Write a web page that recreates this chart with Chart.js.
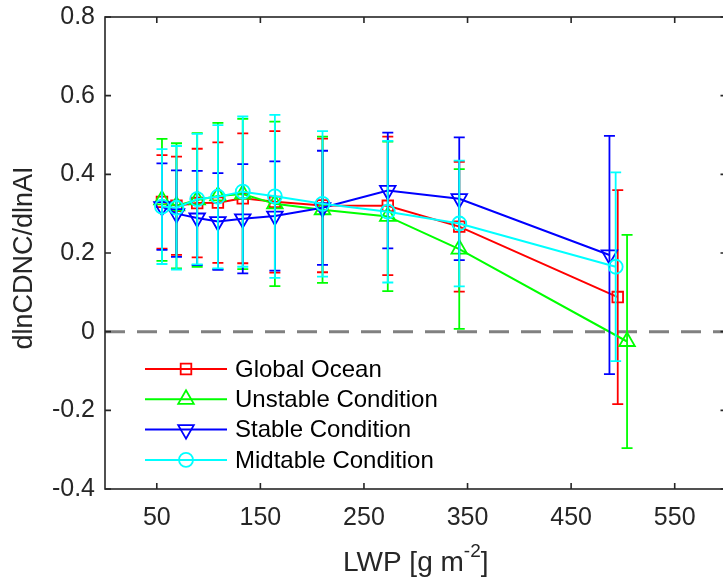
<!DOCTYPE html>
<html>
<head>
<meta charset="utf-8">
<script src="https://cdn.jsdelivr.net/npm/chart.js@4.4.0/dist/chart.umd.min.js"></script>
<style>
html, body { margin: 0; padding: 0; background: #fff; overflow: hidden; }
canvas { display: block; }
</style>
</head>
<body>
<canvas id="myChart" width="723" height="582"></canvas>
<script>
// series names, colours and markers (matlab r / g / b / c)
var seriesNames = ['Global Ocean', 'Unstable Condition', 'Stable Condition', 'Midtable Condition'];
var seriesColors = ['#ff0000', '#00ff00', '#0000ff', '#00ffff'];

// LWP bins [g m-2]
var lwpGlobal   = [55, 69, 89, 109, 133, 164, 210, 273, 342, 495];
var lwpUnstable = [55, 69, 89, 109, 133, 164, 210, 273, 342, 504];
var lwpStable   = [55, 69, 89, 109, 133, 164, 210, 273, 342, 487];
var lwpMid      = [55, 69, 89, 109, 133, 164, 210, 273, 342, 493];

// dlnCDNC/dlnAI
var valGlobal   = [0.330, 0.320, 0.327, 0.328, 0.339, 0.330, 0.321, 0.320, 0.267, 0.088];
var valUnstable = [0.335, 0.320, 0.335, 0.345, 0.350, 0.325, 0.310, 0.293, 0.210, -0.025];
var valStable   = [0.318, 0.300, 0.289, 0.280, 0.287, 0.294, 0.315, 0.359, 0.338, 0.195];
var valMid      = [0.318, 0.315, 0.337, 0.343, 0.356, 0.344, 0.325, 0.305, 0.275, 0.165];

// error bar half lengths
var errGlobal   = [0.119, 0.125, 0.138, 0.153, 0.165, 0.180, 0.170, 0.176, 0.165, 0.272];
var errUnstable = [0.155, 0.159, 0.170, 0.186, 0.191, 0.209, 0.186, 0.190, 0.203, 0.271];
var errStable   = [0.110, 0.110, 0.120, 0.123, 0.139, 0.139, 0.145, 0.147, 0.156, 0.303];
var errMid      = [0.146, 0.157, 0.166, 0.182, 0.191, 0.207, 0.185, 0.180, 0.160, 0.240];

// dashed zero line
var zeroLineX = [0, 600];
var zeroLineY = [0, 0];

var xTicks = [50, 150, 250, 350, 450, 550];
var yTicks = [-0.4, -0.2, 0, 0.2, 0.4, 0.6, 0.8];

var fontFamily = "'Liberation Sans', Arial, Helvetica, sans-serif";
var axisColor = '#262626';
var axesRight = 726.5; // the right side of the box is cut off in the figure

function toPoints(xs, ys) {
    return xs.map(function(x, i) { return {x: x, y: ys[i]}; });
}

function series(i, xs, ys, errs, style, radius, rotation, order) {
    return {
        label: seriesNames[i],
        data: toPoints(xs, ys),
        errors: errs,
        borderColor: seriesColors[i],
        backgroundColor: seriesColors[i],
        borderWidth: 2,
        pointStyle: style,
        pointRadius: radius,
        pointRotation: rotation,
        pointBorderWidth: 1.8,
        pointBackgroundColor: 'rgba(0,0,0,0)',
        pointBorderColor: seriesColors[i],
        order: order
    };
}

// stretch the x scale so the box runs past the canvas edge
var stretchX = {
    id: 'stretchX',
    afterLayout: function(chart) {
        var sx = chart.scales.x;
        sx.right = axesRight;
        sx.width = sx.right - sx.left;
        sx.configure();
        chart.chartArea.right = axesRight;
        chart.chartArea.width = axesRight - chart.chartArea.left;
    }
};

// error bars drawn just before each series' line and markers
var errorBars = {
    id: 'errorBars',
    beforeDatasetDraw: function(chart, args) {
        var ds = chart.data.datasets[args.index];
        if (!ds.errors) return;
        var ctx = chart.ctx, sx = chart.scales.x, sy = chart.scales.y;
        var cap = 5.5;
        ctx.save();
        ctx.strokeStyle = ds.borderColor;
        ctx.lineWidth = 1.8;
        ds.data.forEach(function(p, i) {
            var px = sx.getPixelForValue(p.x);
            var top = sy.getPixelForValue(p.y + ds.errors[i]);
            var bot = sy.getPixelForValue(p.y - ds.errors[i]);
            ctx.beginPath();
            ctx.moveTo(px, top); ctx.lineTo(px, bot);
            ctx.moveTo(px - cap, top); ctx.lineTo(px + cap, top);
            ctx.moveTo(px - cap, bot); ctx.lineTo(px + cap, bot);
            ctx.stroke();
        });
        ctx.restore();
    }
};

// matlab style box with inward ticks, legend and axis titles
var decorations = {
    id: 'decorations',
    afterDraw: function(chart) {
        var ctx = chart.ctx, a = chart.chartArea;
        var sx = chart.scales.x, sy = chart.scales.y;
        var tl = 6;
        ctx.save();
        ctx.strokeStyle = axisColor;
        ctx.lineWidth = 1.6;
        ctx.strokeRect(a.left, a.top, a.right - a.left, a.bottom - a.top);
        ctx.beginPath();
        xTicks.forEach(function(v) {
            var px = sx.getPixelForValue(v);
            ctx.moveTo(px, a.bottom); ctx.lineTo(px, a.bottom - tl);
            ctx.moveTo(px, a.top); ctx.lineTo(px, a.top + tl);
        });
        yTicks.forEach(function(v) {
            var py = sy.getPixelForValue(v);
            ctx.moveTo(a.left, py); ctx.lineTo(a.left + tl, py);
            ctx.moveTo(a.right, py); ctx.lineTo(a.right - tl, py);
        });
        ctx.stroke();

        // legend
        var ds = chart.data.datasets;
        ctx.font = '24px ' + fontFamily;
        ctx.textBaseline = 'middle';
        ctx.textAlign = 'left';
        for (var i = 0; i < seriesNames.length; i++) {
            var d = ds[i];
            var y = 369 + i * 30.3;
            ctx.strokeStyle = d.borderColor;
            ctx.lineWidth = 2;
            ctx.beginPath();
            ctx.moveTo(145, y); ctx.lineTo(227, y);
            ctx.stroke();
            ctx.fillStyle = 'rgba(0,0,0,0)';
            ctx.lineWidth = 1.8;
            Chart.helpers.drawPoint(ctx, {
                pointStyle: d.pointStyle, radius: d.pointRadius,
                rotation: d.pointRotation, borderWidth: 1.8
            }, 186, y);
            ctx.fillStyle = '#000';
            ctx.fillText(seriesNames[i], 235, y + 1);
        }

        // y title
        ctx.fillStyle = axisColor;
        ctx.save();
        ctx.translate(25, 258);
        ctx.rotate(-Math.PI / 2);
        ctx.font = '27px ' + fontFamily;
        ctx.textAlign = 'center';
        ctx.textBaseline = 'middle';
        ctx.fillText('dlnCDNC/dlnAI', 0, 0);
        ctx.restore();

        // x title with superscript
        var cx = (a.left + a.right) / 2;
        var base = 571;
        var t1 = 'LWP [g m', t2 = '-2', t3 = ']';
        ctx.textAlign = 'left';
        ctx.textBaseline = 'alphabetic';
        ctx.font = '28px ' + fontFamily;
        var w1 = ctx.measureText(t1).width, w3 = ctx.measureText(t3).width;
        ctx.font = '19px ' + fontFamily;
        var w2 = ctx.measureText(t2).width;
        var x0 = cx - (w1 + w2 + w3) / 2;
        ctx.font = '28px ' + fontFamily;
        ctx.fillText(t1, x0, base);
        ctx.fillText(t3, x0 + w1 + w2, base);
        ctx.font = '19px ' + fontFamily;
        ctx.fillText(t2, x0 + w1, base - 14);
        ctx.restore();
    }
};

var ctx = document.getElementById('myChart').getContext('2d');
var chart = new Chart(ctx, {
    type: 'line',
    data: {
        datasets: [
            series(0, lwpGlobal, valGlobal, errGlobal, 'rect', 7.5, 0, 3),
            series(1, lwpUnstable, valUnstable, errUnstable, 'triangle', 9, 0, 2),
            series(2, lwpStable, valStable, errStable, 'triangle', 9, 180, 1),
            series(3, lwpMid, valMid, errMid, 'circle', 7, 0, 0),
            {
                label: 'zero',
                data: toPoints(zeroLineX, zeroLineY),
                borderColor: '#808080',
                borderWidth: 3,
                borderDash: [20, 12],
                pointRadius: 0,
                order: 10
            }
        ]
    },
    options: {
        responsive: false,
        animation: false,
        layout: { padding: { top: 17, right: 0, left: 0, bottom: 0 } },
        plugins: { legend: { display: false }, tooltip: { enabled: false } },
        scales: {
            x: {
                type: 'linear', min: 0, max: 600,
                afterBuildTicks: function(s) { s.ticks = xTicks.map(function(v) { return {value: v}; }); },
                afterFit: function(s) { s.height = 93; s.paddingLeft = 0; s.paddingRight = 0; },
                grid: { display: false, drawTicks: false },
                border: { display: false },
                ticks: {
                    color: axisColor, padding: 14, maxRotation: 0, autoSkip: false,
                    font: { family: fontFamily, size: 25 }
                }
            },
            y: {
                type: 'linear', min: -0.4, max: 0.8,
                afterBuildTicks: function(s) { s.ticks = yTicks.map(function(v) { return {value: v}; }); },
                afterFit: function(s) { s.width = 105; s.paddingTop = 0; s.paddingBottom = 0; },
                grid: { display: false, drawTicks: false },
                border: { display: false },
                ticks: {
                    color: axisColor, padding: 10, autoSkip: false,
                    font: { family: fontFamily, size: 25 },
                    callback: function(v) { return v === 0 ? '0' : v.toFixed(1); }
                }
            }
        }
    },
    plugins: [stretchX, errorBars, decorations]
});
</script>
</body>
</html>
